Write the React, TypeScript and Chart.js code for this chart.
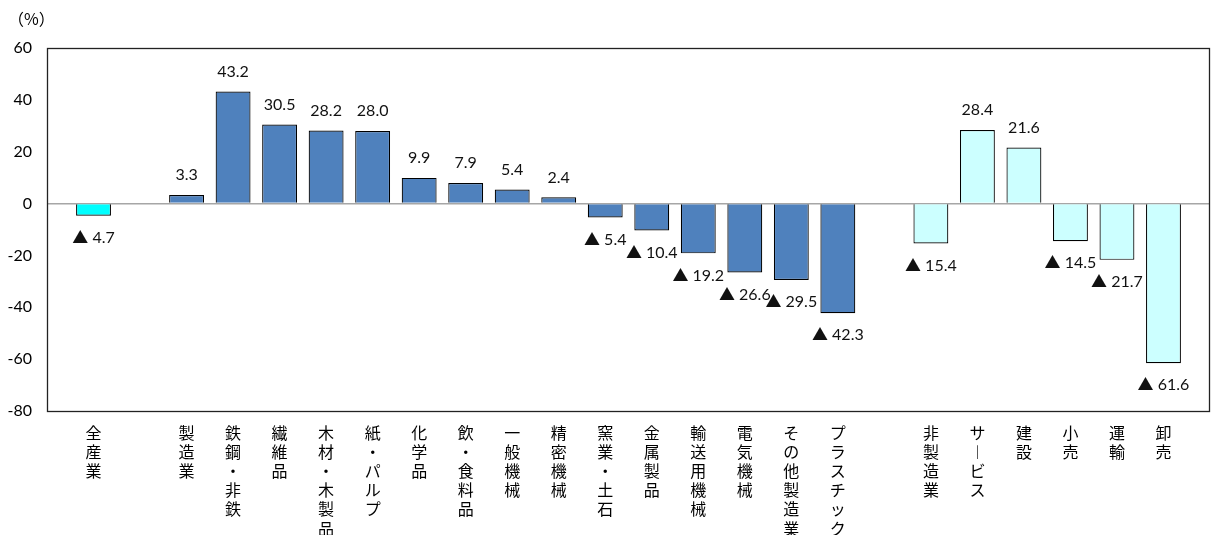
import { useEffect, useRef } from 'react';
import { Chart, ChartConfiguration, Plugin, registerables } from 'chart.js';

Chart.register(...registerables);

// categories in plot order ('' = empty slot between groups)
const categories = [
  '全産業', '',
  '製造業', '鉄鋼・非鉄', '繊維品', '木材・木製品', '紙・パルプ', '化学品', '飲・食料品',
  '一般機械', '精密機械', '窯業・土石', '金属製品', '輸送用機械', '電気機械', 'その他製造業', 'プラスチック',
  '',
  '非製造業', 'サ︱ビス', '建設', '小売', '運輸', '卸売',
];

const values: (number | null)[] = [
  -4.7, null,
  3.3, 43.2, 30.5, 28.2, 28.0, 9.9, 7.9,
  5.4, 2.4, -5.4, -10.4, -19.2, -26.6, -29.5, -42.3,
  null,
  -15.4, 28.4, 21.6, -14.5, -21.7, -61.6,
];

// group of each slot: total / manufacturing / non-manufacturing
const groups = [
  'all', '',
  'mfg', 'mfg', 'mfg', 'mfg', 'mfg', 'mfg', 'mfg',
  'mfg', 'mfg', 'mfg', 'mfg', 'mfg', 'mfg', 'mfg', 'mfg',
  '',
  'non', 'non', 'non', 'non', 'non', 'non',
];

const yTicks = [60, 40, 20, 0, -20, -40, -60, -80];

const groupColors: Record<string, string> = {
  all: '#00FFFF',
  mfg: '#4F81BD',
  non: '#CCFFFF',
  '': 'transparent',
};

const numFont = "Lato, 'Noto Sans CJK JP', sans-serif";
const jpFont = "'Noto Sans CJK JP', sans-serif";

// pad one blank slot on each side so bars sit on whole slot positions
const labels = ['', ...categories, ''];
const data = [null, ...values, null];
const colors = ['', ...groups, ''].map((g) => groupColors[g]);

const frame: Plugin = {
  id: 'frame',
  afterDraw(chart) {
    const { ctx, chartArea: a } = chart;
    ctx.save();
    ctx.strokeStyle = '#222';
    ctx.lineWidth = 1.3;
    ctx.strokeRect(Math.round(a.left) + 0.5, Math.round(a.top) + 0.5, Math.round(a.right - a.left) - 1, Math.round(a.bottom - a.top));
    ctx.restore();
  },
};

const valueLabels: Plugin = {
  id: 'valueLabels',
  afterDatasetsDraw(chart) {
    const { ctx } = chart;
    const meta = chart.getDatasetMeta(0);
    ctx.save();
    ctx.font = `16px ${numFont}`;
    ctx.fillStyle = '#111';
    ctx.textAlign = 'center';
    ctx.textBaseline = 'middle';
    meta.data.forEach((el, i) => {
      const v = data[i];
      if (v === null || v === undefined) return;
      if (v >= 0) {
        ctx.fillText(v.toFixed(1), el.x, el.y - 20);
      } else {
        ctx.fillText('▲ ' + Math.abs(v).toFixed(1), el.x, el.y + 22);
      }
    });
    ctx.restore();
  },
};

export default function App() {
  const canvasRef = useRef<HTMLCanvasElement>(null);
  const chartRef = useRef<Chart | null>(null);

  useEffect(() => {
    if (!canvasRef.current) return;
    const ctx = canvasRef.current.getContext('2d');
    if (!ctx) return;

    if (chartRef.current) {
      chartRef.current.destroy();
    }

    const config: ChartConfiguration = {
      type: 'bar',
      data: {
        labels: labels.map((l) => Array.from(l)),
        datasets: [{
          data: data,
          backgroundColor: colors,
          borderColor: '#000',
          borderWidth: 1.2,
          categoryPercentage: 1,
          barPercentage: 0.75,
        }],
      },
      options: {
        animation: false,
        responsive: true,
        maintainAspectRatio: false,
        layout: { padding: { top: 48, right: 2, left: 0, bottom: 0 } },
        plugins: {
          legend: { display: false },
          tooltip: { enabled: false },
        },
        scales: {
          x: {
            type: 'category',
            offset: false,
            grid: { display: false, drawTicks: false },
            border: { display: false },
            ticks: {
              autoSkip: false,
              maxRotation: 0,
              minRotation: 0,
              padding: 12,
              color: '#000',
              font: { family: jpFont, size: 16, lineHeight: 1.2 },
            },
            afterFit(scale) {
              scale.height = 124;
              scale.paddingLeft = 0;
              scale.paddingRight = 0;
            },
          },
          y: {
            min: -80,
            max: 60,
            grid: {
              drawTicks: false,
              color: (c) => (c.tick && c.tick.value === 0 ? '#A6A6A6' : 'transparent'),
              lineWidth: 1.5,
            },
            border: { display: false },
            afterBuildTicks(scale) {
              scale.ticks = yTicks.map((v) => ({ value: v }));
            },
            ticks: {
              padding: 15,
              color: '#000',
              font: { family: numFont, size: 16 },
            },
            afterFit(scale) {
              scale.width = 47;
            },
          },
        },
      },
      plugins: [frame, valueLabels],
    };

    chartRef.current = new Chart(ctx, config);

    return () => {
      if (chartRef.current) {
        chartRef.current.destroy();
      }
    };
  }, []);

  return (
    <div style={{ position: 'absolute', left: 0, top: 0, width: 1212, height: 535, background: '#fff' }}>
      <div style={{ position: 'absolute', left: 8, top: 6, fontFamily: jpFont, fontSize: 16, color: '#000' }}>（%）</div>
      <canvas ref={canvasRef} />
    </div>
  );
}
